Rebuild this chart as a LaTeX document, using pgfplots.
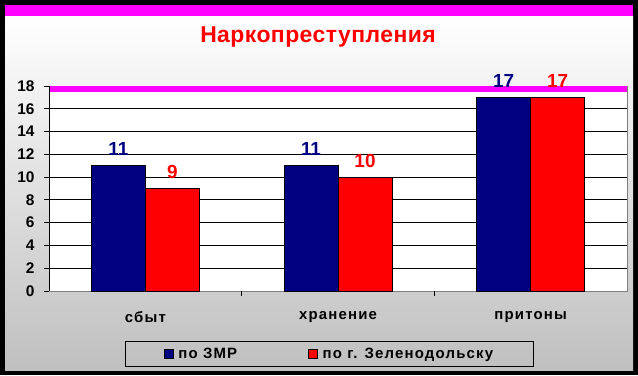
\documentclass[border=0pt]{standalone}
\usepackage{pgfplots}
\pgfplotsset{compat=1.18}
\usepackage{fontspec}
\setmainfont{Liberation Sans}
\newfontfamily\lab[LetterSpace=8]{Liberation Sans}
\newfontfamily\ttl[LetterSpace=2]{Liberation Sans}
\definecolor{navyb}{RGB}{0,0,128}
\definecolor{mag}{RGB}{255,0,255}
\begin{document}
\begin{tikzpicture}[x=1bp,y=1bp]
\path[use as bounding box] (0,0) rectangle (638,375);
\fill[black] (0,0) rectangle (638,375);
\shade[top color=white, bottom color=black!25!white] (5,5) rectangle (633,359);
\fill[mag] (5,359) rectangle (633,370);
\node[font=\ttl\bfseries\fontsize{23}{27}\selectfont, text=red] at (318,338) {Наркопреступления};
\begin{axis}[
  at={(49bp,84bp)}, anchor=south west, scale only axis,
  width=578bp, height=205bp,
  xmin=-0.5, xmax=2.5, ymin=0, ymax=18,
  clip=false,
  ybar=0pt, bar width=54bp,
  axis background/.style={fill=white},
  axis line style={draw=gray, line width=0.8bp},
  xtick={0,1,2}, xticklabels={сбыт,хранение,притоны},
  xtick style={draw=none},
  extra x ticks={0.5,1.5}, extra x tick labels={},
  extra x tick style={xtick style={draw=black, line width=0.8bp}},
  ytick={0,2,...,18},
  ytick style={draw=black, line width=0.8bp},
  tick align=outside, major tick length=5bp,
  xtick pos=bottom, ytick pos=left,
  ymajorgrids, major grid style={draw=black, line width=0.8bp},
  xticklabel style={font=\lab\bfseries\fontsize{15}{17}\selectfont, yshift=-12bp},
  yticklabel style={font=\bfseries\fontsize{15.5}{17}\selectfont, xshift=-6bp},
  /pgf/number format/assume math mode=true,
  every node near coord/.append style={font=\bfseries\fontsize{19}{21}\selectfont, anchor=south, inner sep=0pt, yshift=9.5bp},
  legend style={at={(0.4853,-0.3073)}, anchor=center, draw=black, line width=0.8bp, fill=none,
    font=\lab\bfseries\fontsize{15}{17}\selectfont, inner xsep=38bp, inner ysep=4.5bp,
    /tikz/every even column/.append style={column sep=69bp}},
  legend columns=2,
]
\fill[mag] (axis cs:-0.5,17.5) rectangle (axis cs:2.5,18);
\addplot[fill=navyb, draw=black, line width=0.8bp, nodes near coords,
  every node near coord/.append style={text=navyb},
  legend image code/.code={\draw[fill=navyb,draw=black,line width=0.5bp] (0bp,-4.5bp) rectangle (9bp,4.5bp);}]
  coordinates {(0,11) (1,11) (2,17)};
\addplot[fill=red, draw=black, line width=0.8bp, nodes near coords,
  every node near coord/.append style={text=red},
  legend image code/.code={\draw[fill=red,draw=black,line width=0.5bp] (0bp,-4.5bp) rectangle (9bp,4.5bp);}]
  coordinates {(0,9) (1,10) (2,17)};
\legend{\hspace{3bp}по ЗМР, \hspace{3bp}по г. Зеленодольску}
\draw[black, line width=0.8bp] (rel axis cs:0,0) -- (rel axis cs:0,1);
\end{axis}
\end{tikzpicture}
\end{document}
